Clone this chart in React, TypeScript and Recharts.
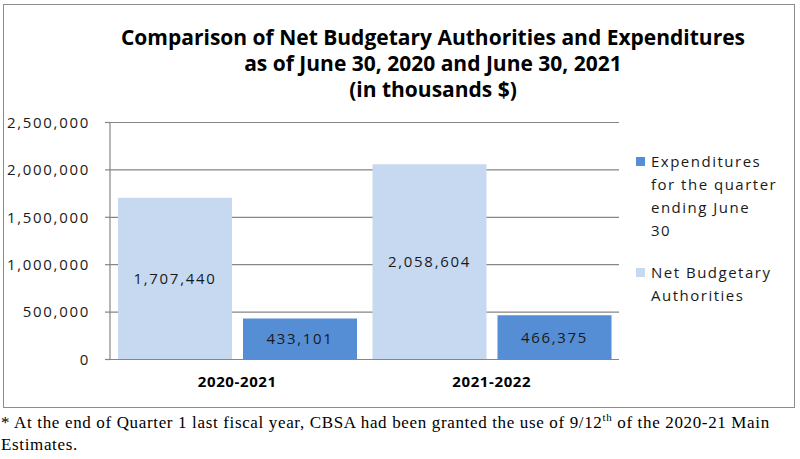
import React from 'react'
import { BarChart, Bar, XAxis, YAxis, CartesianGrid, LabelList } from 'recharts'

const categories = ['2020-2021', '2021-2022']
const netBudgetaryAuthorities = [1707440, 2058604]
const expenditures = [433101, 466375]
const yTicks = [0, 500000, 1000000, 1500000, 2000000, 2500000]

const expLegendLines = ['Expenditures', 'for the quarter', 'ending June', '30']
const nbaLegendLines = ['Net Budgetary', 'Authorities']

const LIGHT = '#c6d9f1'
const DARK = '#558ed5'
const AXIS = '#868686'
const FONT = "'Open Sans', sans-serif"

const data = categories.map((cat, i) => ({
  cat,
  nba: netBudgetaryAuthorities[i],
  exp: expenditures[i],
}))

const fmt = (v: number) => v.toLocaleString('en-US')

const legendItems = [
  { color: DARK, lines: expLegendLines },
  { color: LIGHT, lines: nbaLegendLines },
]

function LegendBox() {
  return (
    <div
      style={{
        position: 'absolute', left: 636, top: 150, width: 155,
        fontFamily: FONT, fontSize: 15, letterSpacing: 1.5, color: '#1a1a1a', lineHeight: '23px',
      }}
    >
      {legendItems.map((item, i) => (
        <div key={i} style={{ display: 'flex', alignItems: 'flex-start', marginBottom: i === 0 ? 19 : 0 }}>
          <div style={{ width: 9, height: 9, background: item.color, marginTop: 7, marginRight: 6, flexShrink: 0 }} />
          <div>
            {item.lines.map((l, j) => (
              <div key={j} style={{ whiteSpace: 'nowrap' }}>{l}</div>
            ))}
          </div>
        </div>
      ))}
    </div>
  )
}

const valueLabelStyle = { fill: '#1a1a1a', fontFamily: FONT, fontSize: 15, letterSpacing: 1.7 }

export default function App() {
  return (
    <div style={{ position: 'absolute', left: 0, top: 0, width: 800, height: 459, background: '#fff', overflow: 'hidden' }}>
      <div style={{ position: 'absolute', left: 3, top: 4, width: 790, height: 402, border: '1px solid #8c8c8c' }} />
      <div
        style={{
          position: 'absolute', left: 83, top: 24, width: 700, textAlign: 'center', whiteSpace: 'nowrap',
          fontFamily: FONT, fontWeight: 700, fontSize: 21, lineHeight: '26px', color: '#000',
        }}
      >
        <div>Comparison of Net Budgetary Authorities and Expenditures</div>
        <div>as of June 30, 2020 and June 30, 2021</div>
        <div>(in thousands $)</div>
      </div>
      <BarChart
        width={800}
        height={410}
        data={data}
        margin={{ top: 122.5, right: 181, bottom: 10.5, left: 0 }}
        barCategoryGap={8}
        barGap={11}
        style={{ position: 'absolute', left: 0, top: 0 }}
      >
        <CartesianGrid vertical={false} stroke={AXIS} strokeWidth={1.2} />
        <XAxis
          dataKey="cat"
          height={40}
          stroke={AXIS}
          strokeWidth={1.2}
          tickLine={false}
          tickSize={0}
          tickMargin={17}
          tick={{ fill: '#000', fontFamily: FONT, fontWeight: 700, fontSize: 15, letterSpacing: 0.6 }}
        />
        <YAxis
          width={110}
          domain={[0, 2500000]}
          ticks={yTicks}
          interval={0}
          stroke={AXIS}
          strokeWidth={1.2}
          tickSize={5}
          tickMargin={15}
          tickFormatter={fmt}
          tick={valueLabelStyle}
        />
        <Bar dataKey="nba" name="Net Budgetary Authorities" fill={LIGHT} isAnimationActive={false}>
          <LabelList dataKey="nba" position="center" formatter={(v: any) => fmt(Number(v))} style={valueLabelStyle} />
        </Bar>
        <Bar dataKey="exp" name="Expenditures for the quarter ending June 30" fill={DARK} isAnimationActive={false}>
          <LabelList dataKey="exp" position="center" formatter={(v: any) => fmt(Number(v))} style={valueLabelStyle} />
        </Bar>
      </BarChart>
      <LegendBox />
      <div
        style={{
          position: 'absolute', left: 1, top: 412, width: 799, fontFamily: "'Liberation Serif', serif",
          fontSize: 17, letterSpacing: 0.65, lineHeight: '22px', color: '#000', whiteSpace: 'nowrap',
        }}
      >
        * At the end of Quarter 1 last fiscal year, CBSA had been granted the use of 9/12
        <sup style={{ fontSize: 11, lineHeight: 0 }}>th</sup> of the 2020-21 Main
        <br />
        Estimates.
      </div>
    </div>
  )
}
